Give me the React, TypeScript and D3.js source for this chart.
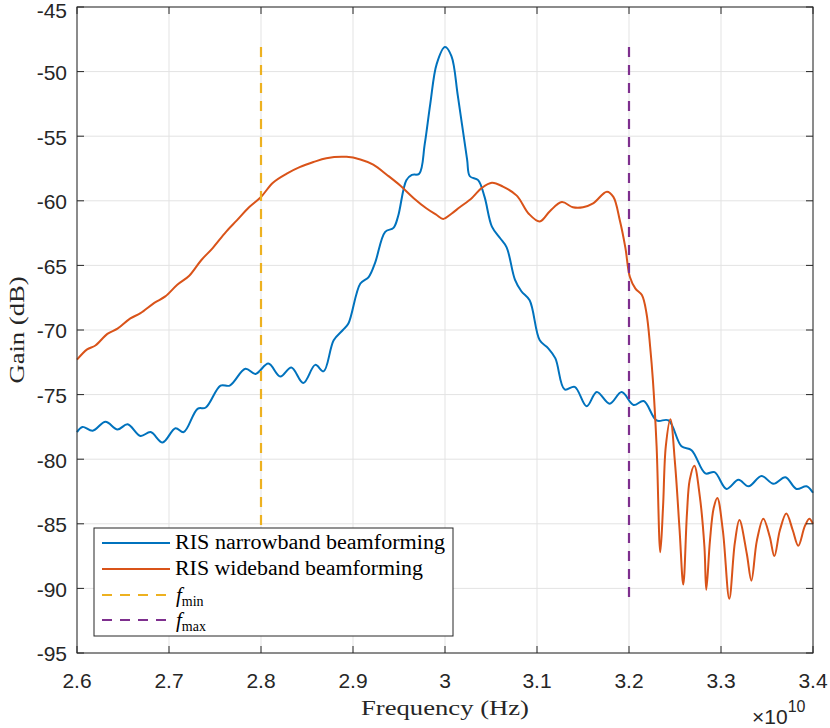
import React from 'react';
import * as d3 from 'd3';

// frequency in units of 1e10 Hz
const narrowFreq = [
  2.6, 2.606, 2.617, 2.631, 2.644, 2.655, 2.669, 2.68, 2.693, 2.707, 2.716, 2.731, 2.74, 2.756, 2.766,
  2.783, 2.794, 2.808, 2.821, 2.833, 2.846, 2.859, 2.868, 2.879, 2.889, 2.895, 2.908, 2.917, 2.924,
  2.935, 2.944, 2.949, 2.958, 2.964, 2.972, 2.978, 2.984, 2.991, 3.0, 3.007, 3.014, 3.024, 3.027,
  3.036, 3.043, 3.051, 3.06, 3.067, 3.076, 3.083, 3.092, 3.103, 3.112, 3.12, 3.13, 3.141, 3.154,
  3.165, 3.179, 3.192, 3.205, 3.216, 3.23, 3.243, 3.257, 3.268, 3.283, 3.293, 3.306, 3.319, 3.33,
  3.344, 3.357, 3.37, 3.382, 3.393, 3.4,
];
const narrowGain = [
  -77.9, -77.5, -77.8, -77.1, -77.7, -77.3, -78.2, -77.9, -78.7, -77.6, -77.9, -76.1, -76.0, -74.3, -74.3,
  -73.0, -73.4, -72.6, -73.6, -72.9, -74.1, -72.7, -73.2, -70.8, -70.0, -69.5, -66.4, -65.9, -64.8,
  -62.4, -62.1, -61.2, -58.4, -58.0, -57.9, -55.6, -52.5, -49.4, -48.1, -48.8, -51.9, -56.8, -58.1,
  -58.4, -59.7, -62.0, -62.9, -63.6, -66.1, -67.0, -67.7, -70.8, -71.4, -72.2, -74.6, -74.4, -75.9,
  -74.8, -75.7, -74.8, -75.8, -75.5, -77.0, -77.0, -79.0, -79.3, -81.1, -81.0, -82.3, -81.6, -82.1,
  -81.3, -81.9, -81.4, -82.3, -82.1, -82.6,
];

const wideFreq = [
  2.6, 2.611, 2.62, 2.633, 2.644, 2.658, 2.669, 2.684, 2.696, 2.709, 2.722, 2.735, 2.747, 2.762, 2.774,
  2.787, 2.8, 2.813, 2.828, 2.842, 2.857, 2.871, 2.893, 2.908, 2.922, 2.937, 2.951, 2.966, 2.98, 2.991,
  2.998, 3.007, 3.016, 3.029, 3.04, 3.051, 3.063, 3.078, 3.091, 3.103, 3.114, 3.127, 3.139, 3.15,
  3.161, 3.176, 3.183, 3.19, 3.196, 3.201, 3.207, 3.214, 3.219, 3.223, 3.226, 3.23, 3.234, 3.237,
  3.24, 3.245, 3.25, 3.255, 3.259, 3.263, 3.266, 3.271, 3.277, 3.282, 3.284, 3.288, 3.292, 3.296,
  3.302, 3.309, 3.315, 3.32, 3.328, 3.333, 3.339, 3.346, 3.353, 3.358, 3.364, 3.371, 3.378, 3.384,
  3.391, 3.396, 3.4,
];
const wideGain = [
  -72.3, -71.5, -71.2, -70.3, -69.9, -69.1, -68.7, -67.9, -67.4, -66.5, -65.8, -64.6, -63.7, -62.4, -61.5,
  -60.5, -59.7, -58.6, -57.9, -57.4, -57.0, -56.7, -56.6, -56.8, -57.2, -58.0, -58.8, -59.8, -60.6, -61.1,
  -61.4, -61.0, -60.5, -59.8, -59.0, -58.6, -58.9, -59.6, -61.0, -61.6, -60.8, -60.1, -60.5, -60.5,
  -60.2, -59.3, -59.7, -61.5, -63.6, -65.9, -66.8, -67.3, -68.7, -71.3, -73.9, -79.0, -87.2, -83.7,
  -79.0, -76.9, -80.3, -85.5, -89.7, -84.2, -81.6, -80.5, -82.9, -86.8, -90.1, -86.3, -83.8, -83.0,
  -85.5, -90.8, -86.5, -84.7, -87.3, -89.4, -86.3, -84.6, -86.0, -87.5, -85.5, -84.2, -85.5, -86.7,
  -85.2, -84.6, -85.0,
];

const fMin = 2.8;
const fMax = 3.2;
const xTicks = [2.6, 2.7, 2.8, 2.9, 3.0, 3.1, 3.2, 3.3, 3.4];
const xTickLabels = ['2.6', '2.7', '2.8', '2.9', '3', '3.1', '3.2', '3.3', '3.4'];
const yTicks = [-95, -90, -85, -80, -75, -70, -65, -60, -55, -50, -45];

const W = 830;
const H = 728;
const margin = { top: 7, right: 17, bottom: 75, left: 77 };

const BLUE = '#0072BD';
const ORANGE = '#D95319';
const YELLOW = '#EDB120';
const PURPLE = '#7E2F8E';
const AXIS = '#262626';
const GRID = '#e3e3e3';
const SANS = '"Liberation Sans", Arial, Helvetica, sans-serif';
const SERIF = '"Liberation Serif", "Times New Roman", serif';

const App: React.FC = () => {
  const x = d3.scaleLinear().domain([2.6, 3.4]).range([margin.left, W - margin.right]);
  const y = d3.scaleLinear().domain([-95, -45]).range([H - margin.bottom, margin.top]);

  const line = d3.line<[number, number]>()
    .x(d => x(d[0]))
    .y(d => y(d[1]))
    .curve(d3.curveCatmullRom.alpha(0.5));

  const narrow = narrowFreq.map((f, i) => [f, narrowGain[i]] as [number, number]);
  const wide = wideFreq.map((f, i) => [f, wideGain[i]] as [number, number]);

  const allGain = narrowGain.concat(wideGain);
  const gMin = d3.min(allGain) as number;
  const gMax = d3.max(allGain) as number;

  const x0 = margin.left;
  const x1 = W - margin.right;
  const y0 = margin.top;
  const y1 = H - margin.bottom;
  const tk = 7;

  // legend
  const lg = { x: 94, y: 528, w: 359, h: 108 };
  const rows = [543, 569, 595, 620];

  return (
    <svg width={W} height={H} style={{ position: 'absolute', left: 0, top: 0, background: '#fff' }}>
      {/* grid */}
      {xTicks.map(t => (
        <line key={'gx' + t} x1={x(t)} x2={x(t)} y1={y0} y2={y1} stroke={GRID} strokeWidth={1} />
      ))}
      {yTicks.map(t => (
        <line key={'gy' + t} x1={x0} x2={x1} y1={y(t)} y2={y(t)} stroke={GRID} strokeWidth={1} />
      ))}

      {/* curves */}
      <path d={line(narrow) || ''} fill="none" stroke={BLUE} strokeWidth={2} />
      <path d={line(wide) || ''} fill="none" stroke={ORANGE} strokeWidth={2} />
      <line x1={x(fMin)} x2={x(fMin)} y1={y(gMax)} y2={y(gMin)} stroke={YELLOW} strokeWidth={2.2} strokeDasharray="10,8" />
      <line x1={x(fMax)} x2={x(fMax)} y1={y(gMax)} y2={y(gMin)} stroke={PURPLE} strokeWidth={2.2} strokeDasharray="10,8" />

      {/* axes box and ticks */}
      <rect x={x0} y={y0} width={x1 - x0} height={y1 - y0} fill="none" stroke={AXIS} strokeWidth={1} />
      {xTicks.map(t => (
        <g key={'tx' + t}>
          <line x1={x(t)} x2={x(t)} y1={y1} y2={y1 - tk} stroke={AXIS} />
          <line x1={x(t)} x2={x(t)} y1={y0} y2={y0 + tk} stroke={AXIS} />
        </g>
      ))}
      {yTicks.map(t => (
        <g key={'ty' + t}>
          <line x1={x0} x2={x0 + tk} y1={y(t)} y2={y(t)} stroke={AXIS} />
          <line x1={x1} x2={x1 - tk} y1={y(t)} y2={y(t)} stroke={AXIS} />
        </g>
      ))}

      {/* tick labels */}
      {xTicks.map((t, i) => (
        <text key={'lx' + t} x={x(t)} y={688} textAnchor="middle" fontFamily={SANS} fontSize={21} fill={AXIS}>
          {xTickLabels[i]}
        </text>
      ))}
      {yTicks.map(t => (
        <text key={'ly' + t} x={67} y={Math.max(y(t), 10)} dy="0.4em" textAnchor="end" fontFamily={SANS} fontSize={21} fill={AXIS}>
          {t}
        </text>
      ))}
      <text x={752} y={724} fontFamily={SANS} fontSize={21} fill={AXIS}>
        ×10
        <tspan dy={-12} fontSize={16}>10</tspan>
      </text>

      {/* axis titles */}
      <text x={(x0 + x1) / 2} y={715} textAnchor="middle" fontFamily={SERIF} fontSize={21} fill={AXIS}
        textLength={168} lengthAdjust="spacingAndGlyphs">
        Frequency (Hz)
      </text>
      <text transform="translate(24,330) rotate(-90)" textAnchor="middle" fontFamily={SERIF} fontSize={21} fill={AXIS}
        textLength={107} lengthAdjust="spacingAndGlyphs">
        Gain (dB)
      </text>

      {/* legend */}
      <rect x={lg.x} y={lg.y} width={lg.w} height={lg.h} fill="#fff" stroke={AXIS} strokeWidth={1} />
      <line x1={102} x2={170} y1={rows[0]} y2={rows[0]} stroke={BLUE} strokeWidth={2} />
      <line x1={102} x2={170} y1={rows[1]} y2={rows[1]} stroke={ORANGE} strokeWidth={2} />
      <line x1={102} x2={170} y1={rows[2]} y2={rows[2]} stroke={YELLOW} strokeWidth={2.2} strokeDasharray="10,8" />
      <line x1={102} x2={170} y1={rows[3]} y2={rows[3]} stroke={PURPLE} strokeWidth={2.2} strokeDasharray="10,8" />
      <text x={175} y={rows[0]} dy="0.32em" fontFamily={SERIF} fontSize={20} fill="#000"
        textLength={270} lengthAdjust="spacingAndGlyphs">
        RIS narrowband beamforming
      </text>
      <text x={175} y={rows[1]} dy="0.32em" fontFamily={SERIF} fontSize={20} fill="#000"
        textLength={248} lengthAdjust="spacingAndGlyphs">
        RIS wideband beamforming
      </text>
      <text x={176} y={rows[2]} dy="0.32em" fontFamily={SERIF} fontSize={21} fill="#000">
        <tspan fontStyle="italic">f</tspan>
        <tspan dy={4} fontSize={14}>min</tspan>
      </text>
      <text x={176} y={rows[3]} dy="0.32em" fontFamily={SERIF} fontSize={21} fill="#000">
        <tspan fontStyle="italic">f</tspan>
        <tspan dy={4} fontSize={14}>max</tspan>
      </text>
    </svg>
  );
};

export default App;
